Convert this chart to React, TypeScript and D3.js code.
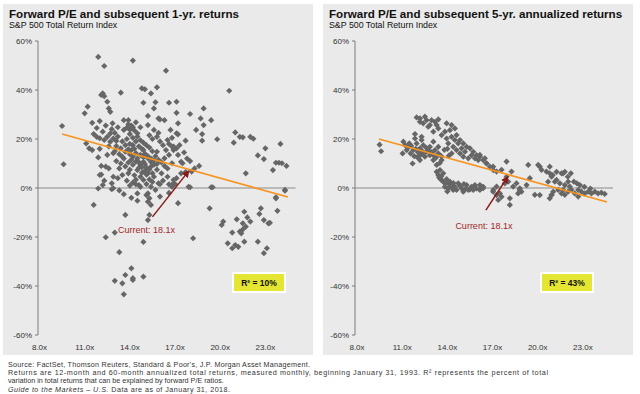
import React from 'react';
import * as d3 from 'd3';

const xTicks = [8, 11, 14, 17, 20, 23];
const yTicks = [60, 40, 20, 0, -20, -40, -60];

const titles = [
  'Forward P/E and subsequent 1-yr. returns',
  'Forward P/E and subsequent 5-yr. annualized returns',
];
const subtitle = 'S&P 500 Total Return Index';
const rSquared = ['R² = 10%', 'R² = 43%'];
const currentLabel = 'Current: 18.1x';

const footnotes = [
  "Source: FactSet, Thomson Reuters, Standard & Poor's, J.P. Morgan Asset Management.",
  'Returns are 12-month and 60-month annualized total returns, measured monthly, beginning January 31, 1993. R² represents the percent of total',
  'variation in total returns that can be explained by forward P/E ratios.',
];
const footnoteWidths: (number | undefined)[] = [302, 540, undefined];

// [forward P/E, subsequent 1-yr return %]
const oneYearPoints: [number, number][] = [
  [11.9, 53.5], [12.3, 49.8], [14.2, 52], [16.4, 47.9], [20.6, 39.7],
  [13.4, 38.9], [12.1, 38], [12.2, 38.6], [12.3, 37.5], [12.5, 35.2], [12.6, 32.5], [12.7, 31.1],
  [11.2, 33.2], [11.0, 30.5], [11.5, 26.6], [12.0, 27.3], [9.5, 25.3], [9.6, 9.7],
  [14.8, 40.7], [15.0, 40.3], [15.4, 38.6], [15.8, 41.1],
  [14.9, 34.8], [15.7, 35.0], [15.6, 32.5], [16.6, 34.8], [17.1, 35.2],
  [15.2, 29.4], [15.9, 28.4], [16.3, 27.7], [17.1, 30.7],
  [12.85, 26.4], [13.2, 24.8], [13.6, 23.7], [13.9, 27.7], [14.2, 24.8], [14.5, 22.3], [14.7, 24.8],
  [15.2, 25.7], [15.6, 23.7], [15.8, 20.9], [16.0, 28.0], [16.5, 19.6], [16.7, 23.7], [16.9, 16.9], [17.1, 22.3],
  [12.0, 20.3], [12.3, 19.6], [12.5, 20.9], [11.1, 18.2], [11.3, 16.2], [11.5, 15.5], [11.8, 20.9],
  [12.7, 18.9], [13.1, 17.1], [13.4, 16.2], [13.7, 14.8], [14.1, 15.5], [14.4, 14.2], [14.7, 13.5],
  [14.9, 15.5], [15.2, 12.1], [15.4, 10.7], [15.8, 14.8], [16.3, 12.1], [16.6, 13.5], [16.8, 10.1],
  [12.5, 13.5], [12.9, 14.2], [12.4, 8.7], [12.6, 8.0], [12.0, 5.3], [12.9, 4.6], [13.2, 4.0], [13.5, 5.3],
  [12.2, 1.2], [12.9, -0.1],
  [14.5, 7.3], [14.7, 4.6], [14.9, 3.3], [14.6, 1.2], [15.2, 6.0], [15.4, 8.7], [15.6, 4.6], [15.9, 1.9],
  [16.1, 6.0], [16.5, 4.6], [16.8, 0.5], [14.7, 9.4], [14.9, 10.7], [15.2, -2.2], [14.5, -2.2],
  [17.2, 26.4], [17.2, 21.9], [18.0, 30.2], [18.9, 32.5], [18.7, 28.4], [19.4, 27.7], [18.4, 23.7],
  [18.9, 25.7], [18.8, 22.0], [18.8, 19.3], [17.7, 19.3], [19.8, 19.9], [21.0, 22.7], [20.9, 18.5],
  [21.3, 20.9], [21.5, 20.7], [22.0, 20.9], [22.2, 20.1], [23.0, 16.2], [24.0, 18.0], [22.5, 13.3],
  [22.9, 11.8], [23.7, 10.3], [23.9, 10.3], [24.1, 10.1], [24.4, 9.0], [23.5, 7.3], [21.7, 6.0],
  [16.8, 16.9], [16.9, 15.5], [17.1, 16.2], [17.2, 13.5], [17.4, 10.7], [17.5, 10.1], [18.3, 8.0],
  [18.6, 9.0], [18.1, 6.7], [17.7, 6.5], [17.4, 6.0], [16.9, 3.3], [17.1, 4.0], [17.0, 1.6], [17.9, 0.5],
  [19.5, 0.3], [24.3, -1.1], [23.7, -3.8],
  [12.8, 1.9], [12.8, -0.5], [14.4, 1.5], [14.7, 0.5], [15.1, 1.6], [15.4, 0.5], [15.7, -0.8], [16.0, 1.6],
  [16.9, 1.9], [15.1, -2.9], [15.3, -4.2], [15.2, -5.6], [18.0, 0.3], [19.4, 0.3], [11.6, -6.9],
  [14.5, -5.2], [15.4, -6.9], [17.2, -6.2], [13.7, -11.0], [15.3, -11.0], [15.2, -13.1], [19.3, -8.3],
  [24.3, -0.8], [23.7, -4.2], [23.8, -9.3], [22.7, -8.3], [22.6, -10.6], [21.6, -9.7], [21.8, -12.0],
  [22.0, -13.7], [21.1, -12.8], [21.5, -14.4], [21.7, -15.8], [20.2, -13.7], [20.1, -15.1], [20.8, -18.2],
  [21.3, -17.8], [21.5, -16.9], [21.4, -18.5], [22.9, -13.1], [23.2, -14.4], [23.3, -14.2], [22.5, -21.9],
  [23.1, -24.6], [22.9, -26.6], [20.5, -22.6], [20.8, -24.6], [21.0, -23.3], [21.2, -24.0], [21.6, -21.9],
  [18.2, -20.5], [12.4, -20.1], [13.0, -18.2], [14.9, -22.0], [13.3, -26.2], [14.1, -32.8], [13.7, -35.5],
  [14.2, -37.5], [13.0, -37.9], [13.5, -38.9], [14.2, -36.8], [14.9, -36.2], [13.6, -43.4],
  [13.6, 27.7], [13.9, 26.0], [14.1, 25.5], [14.3, 23.5], [14.5, 21.0], [14.7, 19.5], [14.9, 18.5],
  [15.1, 17.5], [15.3, 16.5], [15.5, 15.0], [15.7, 13.0], [15.9, 11.5], [16.1, 10.5], [16.3, 9.0],
  [16.5, 8.0], [14.0, 22.0], [14.2, 20.5], [14.4, 19.0], [14.6, 17.0], [14.8, 16.0], [15.0, 14.0],
  [15.2, 13.0], [15.4, 12.0], [13.8, 20.0], [14.0, 18.0], [14.2, 17.5], [14.3, 16.0], [14.5, 12.0],
  [14.6, 10.5], [14.8, 8.5], [15.0, 7.0], [15.1, 5.5], [15.3, 3.5], [15.5, 2.5], [14.1, 11.5],
  [14.2, 9.5], [14.0, 7.5], [13.9, 6.0], [13.8, 3.0], [14.0, 1.0], [13.6, 12.0], [13.4, 10.0],
  [13.3, 8.0], [13.1, 11.0], [16.0, 19.0], [16.2, 17.5], [16.4, 15.5], [15.9, 22.5], [15.5, 20.0],
  [15.3, 21.5], [16.6, 18.0], [16.8, 20.5], [17.3, 17.5], [17.6, 14.5], [17.8, 12.0], [18.0, 11.0],
  [16.2, 3.0], [16.6, 1.5], [15.8, 7.5], [15.6, 9.5], [13.2, 21.0], [13.0, 22.5], [12.8, 24.0],
  [13.5, 19.0], [12.2, 23.0], [12.4, 25.5], [11.8, 24.5], [11.6, 22.0], [12.0, 16.0], [11.9, 12.5],
  [12.1, 9.0], [12.1, 5.5], [11.9, -0.2], [12.3, 3.0], [13.3, -1.0], [13.6, -2.5], [14.1, -4.0],
  [16.6, -2.0], [16.0, -3.5], [12.6, 17.0], [13.0, 15.0],
  [13.7, 17.5], [13.9, 15.8], [14.0, 13.8], [14.2, 12.8], [14.4, 10.8], [14.6, 8.2], [14.8, 6.2],
  [14.9, 12.6], [15.0, 9.8], [15.1, 8.4], [15.3, 7.6], [15.5, 6.0], [15.6, 11.2], [15.8, 9.8],
  [14.3, 5.2], [14.4, 3.4], [14.2, 2.2], [13.7, 8.8], [13.5, 12.8], [13.3, 13.8], [13.9, 10.4],
  [13.8, 24.6], [14.0, 23.8], [14.4, 26.8], [12.9, 20.2], [13.1, 19.2], [12.7, 22.2],
];

// [forward P/E, subsequent 5-yr annualized return %]
const fiveYearPoints: [number, number][] = [
  [9.5, 17.7], [9.6, 15.0],
  [11.96, 28.8], [12.18, 27.0], [12.4, 26.4], [12.62, 27.7], [12.84, 25.7], [13.18, 27.0], [13.4, 28.0],
  [13.4, 24.3], [13.07, 23.0], [13.62, 21.6], [13.95, 20.2], [14.17, 23.6], [14.28, 25.7], [14.5, 24.3],
  [14.61, 21.6], [14.84, 19.6], [15.06, 18.2], [15.28, 16.8], [15.5, 16.2], [15.72, 14.8], [15.94, 13.4],
  [16.16, 12.8], [16.38, 11.4], [16.6, 10.0], [16.83, 8.7], [17.05, 7.3], [14.06, 18.2], [14.39, 16.8],
  [14.61, 15.5], [14.84, 14.1], [14.28, 14.1], [15.06, 12.8], [15.39, 12.1],
  [12.18, 28.4], [12.51, 29.1], [12.95, 27.7], [12.73, 25.0], [13.29, 25.7], [13.95, 26.4], [13.84, 23.0],
  [14.28, 20.9], [14.5, 19.6], [14.72, 18.2], [14.95, 16.2], [15.17, 14.8], [15.61, 13.4], [15.83, 12.1],
  [16.05, 11.4],
  [11.08, 18.9], [11.19, 17.5], [11.47, 18.2], [11.3, 15.5], [11.56, 14.1], [11.69, 10.0], [11.03, 14.1],
  [11.96, 18.2], [12.18, 16.2], [12.4, 17.5], [12.62, 14.8], [12.84, 13.4], [12.51, 12.8], [13.07, 11.4],
  [13.18, 15.5], [13.4, 14.1], [13.62, 11.4], [13.29, 9.4], [13.51, 7.3], [13.73, 6.0], [12.18, 11.4],
  [12.4, 14.1], [11.74, 15.5], [11.85, 20.2], [12.29, 19.6], [12.84, 16.8], [13.07, 18.9], [11.85, 22.0],
  [12.29, 20.9],
  [11.4, 16.6], [11.6, 17.2], [11.9, 16.0], [12.05, 14.6], [12.3, 15.2], [12.6, 16.4], [12.75, 15.4],
  [12.95, 14.6], [13.1, 13.2], [13.25, 12.4], [12.0, 12.6], [12.2, 13.4], [11.8, 13.0], [13.5, 10.2],
  [13.4, 16.8], [13.6, 13.0], [13.8, 15.6], [14.0, 16.0], [14.1, 13.2],
  [13.4, 5.3], [13.62, 3.2], [13.84, 1.9], [14.06, -0.2], [14.28, 1.2], [14.5, 0.5], [14.72, 1.9],
  [14.95, -0.2], [15.28, 1.2], [15.61, 0.5], [15.94, -0.2], [16.16, -0.8], [16.38, 0.5], [13.84, 0.5],
  [14.39, -0.8], [15.06, -1.5], [15.72, -0.8], [13.51, 3.9], [13.73, 2.6], [14.17, 2.6], [14.61, -0.8],
  [15.39, -0.8], [15.83, 1.2], [16.16, 1.2], [13.29, 6.6], [14.06, 1.9],
  [13.95, 3.6], [14.2, 0.4], [14.4, 2.0], [14.85, 0.8], [15.1, 1.6], [15.5, -0.6], [15.2, -0.4],
  [14.0, -1.4], [13.6, 4.8], [13.45, 4.4],
  [16.16, 13.5], [16.49, 12.1], [16.6, 10.1], [17.04, 8.7], [17.27, 6.7], [17.6, 7.4], [17.93, 10.8],
  [18.26, 6.7], [17.93, 4.6], [18.04, 2.6], [17.82, 1.9], [17.27, 0.6], [17.04, -1.5], [17.49, -2.2],
  [17.38, -4.9], [18.15, -4.2], [18.15, -6.9], [18.37, 0.6], [18.59, 1.9], [18.81, -0.1], [18.92, -1.5],
  [18.7, -2.2], [19.37, 9.4], [19.48, 4.0], [19.81, -2.8], [20.14, 8.7], [20.25, 7.4], [20.58, 6.7],
  [20.8, 6.0], [20.92, 4.6], [20.69, 2.6], [21.14, 2.6], [21.25, 3.3], [21.47, 1.9], [21.69, 6.0],
  [21.8, 1.2], [22.02, 2.6], [22.13, 0.6], [21.03, -1.5], [20.92, -2.8], [21.36, -0.8], [21.58, -2.2],
  [21.8, -2.8], [22.24, -0.8], [22.46, -2.2], [22.69, -0.8], [22.91, -1.5], [23.13, -2.2], [23.35, -1.5],
  [23.57, -2.2], [23.79, -1.5], [24.01, -2.2], [24.23, -1.9], [24.45, -2.4], [22.69, -3.5], [21.69, -0.8],
  [22.02, -1.5], [16.27, 0.6], [16.38, -0.1],
  [17.05, -0.8], [17.27, -2.9], [17.6, -3.6], [18.8, -0.8], [19.26, 1.2], [20.03, 9.4], [20.8, 8.7],
  [21.0, 5.3], [21.25, 6.6], [21.58, 6.0], [20.8, -4.2], [20.92, -2.9], [20.14, -2.9], [21.8, 6.6],
  [22.2, 6.0], [22.0, 4.6], [22.4, 2.6], [22.6, 1.9], [22.8, 1.2], [23.1, 0.5], [23.5, -0.2],
];

const oneYearTrend: [number, number][] = [[9.5, 22.0], [24.5, -3.7]];
const fiveYearTrend: [number, number][] = [[9.46, 20.0], [24.6, -5.7]];
const oneYearArrow: [number, number][] = [[15.5, -11.8], [17.9, 6.9]];
const fiveYearArrow: [number, number][] = [[16.56, -9.0], [18.0, 4.5]];

const FONT = "'Liberation Sans', Arial, sans-serif";

type PanelProps = {
  id: string;
  left: number;
  axisX: number;
  rangeStart: number;
  title: string;
  points: [number, number][];
  trend: [number, number][];
  arrow: [number, number][];
  r2: string;
  labelDx: number;
  labelDy: number;
  boxX: number;
};

function Panel(p: PanelProps) {
  const x = d3.scaleLinear().domain([8, 25]).range([p.rangeStart, p.rangeStart + 256]);
  const y = d3.scaleLinear().domain([-60, 60]).range([335, 41]);
  const line = d3.line<[number, number]>().x((d) => x(d[0])).y((d) => y(d[1]));
  const r = 3.1;
  const a0 = p.arrow[0];
  return (
    <g>
      <rect x={p.left} y={4} width={310} height={351} fill="#e9eae9" />
      <text x={p.left + 6} y={17.5} fontFamily={FONT} fontWeight="bold" fontSize={11.6} fill="#111">
        {p.title}
      </text>
      <text x={p.left + 6} y={28} fontFamily={FONT} fontSize={8.8} fill="#111">
        {subtitle}
      </text>
      <line x1={p.axisX} x2={p.axisX} y1={y(60)} y2={y(-60)} stroke="#7a7a7a" strokeWidth={1} />
      {yTicks.map((t) => (
        <g key={t}>
          <line x1={p.axisX - 3} x2={p.axisX} y1={y(t)} y2={y(t)} stroke="#7a7a7a" />
          <text x={p.axisX - 6} y={y(t) + 3} textAnchor="end" fontFamily={FONT} fontSize={8} fill="#333">
            {`${t}%`}
          </text>
        </g>
      ))}
      {xTicks.map((t) => (
        <text key={t} x={x(t)} y={350} textAnchor="middle" fontFamily={FONT} fontSize={8} fill="#333">
          {`${t.toFixed(1)}x`}
        </text>
      ))}
      <line x1={p.axisX} x2={x(25)} y1={y(0)} y2={y(0)} stroke="#8a8a8a" strokeWidth={1} />
      {p.points.map((d, i) => (
        <path
          key={i}
          transform={`translate(${x(d[0])},${y(d[1])})`}
          d={`M0,${-r}L${r},0L0,${r}L${-r},0Z`}
          fill="#666666"
        />
      ))}
      <path d={line(p.trend) || ''} stroke="#f7931e" strokeWidth={1.6} fill="none" />
      <defs>
        <marker id={`arr-${p.id}`} viewBox="0 0 10 10" refX="8" refY="5" markerWidth="5" markerHeight="5" orient="auto">
          <path d="M0,0L10,5L0,10Z" fill="#8b1a1a" />
        </marker>
      </defs>
      <path d={line(p.arrow) || ''} stroke="#8b1a1a" strokeWidth={1.5} fill="none" markerEnd={`url(#arr-${p.id})`} />
      <text
        x={x(a0[0]) + p.labelDx}
        y={y(a0[1]) + p.labelDy}
        textAnchor="middle"
        fontFamily={FONT}
        fontSize={9}
        fill="#a3262a"
      >
        {currentLabel}
      </text>
      <rect x={p.boxX} y={273} width={52} height={19} fill="#e5e533" stroke="#ffffff" strokeWidth={2} />
      <text x={p.boxX + 26} y={285.5} textAnchor="middle" fontFamily={FONT} fontWeight="bold" fontSize={8.5} fill="#111">
        {p.r2}
      </text>
    </g>
  );
}

export default function App() {
  return (
    <svg
      width={640}
      height={394}
      viewBox="0 0 640 394"
      style={{ position: 'absolute', left: 0, top: 0, background: '#ffffff' }}
    >
      <rect width={640} height={394} fill="#ffffff" />
      <Panel
        id="l"
        left={3}
        axisX={38}
        rangeStart={39.5}
        title={titles[0]}
        points={oneYearPoints}
        trend={oneYearTrend}
        arrow={oneYearArrow}
        r2={rSquared[0]}
        labelDx={-6}
        labelDy={16}
        boxX={233}
      />
      <Panel
        id="r"
        left={323}
        axisX={355}
        rangeStart={357}
        title={titles[1]}
        points={fiveYearPoints}
        trend={fiveYearTrend}
        arrow={fiveYearArrow}
        r2={rSquared[1]}
        labelDx={-2}
        labelDy={19}
        boxX={541}
      />
      {footnotes.map((f, i) => (
        <text
          key={i}
          x={8}
          y={367 + i * 8.2}
          fontFamily={FONT}
          fontSize={7.2}
          fill="#333"
          textLength={footnoteWidths[i]}
          lengthAdjust={footnoteWidths[i] ? 'spacing' : undefined}
        >
          {f}
        </text>
      ))}
      <text x={8} y={367 + 3 * 8.2} fontFamily={FONT} fontSize={7.2} fill="#333" textLength={222} lengthAdjust="spacing">
        <tspan fontStyle="italic">Guide to the Markets – U.S.</tspan>
        <tspan> Data are as of January 31, 2018.</tspan>
      </text>
    </svg>
  );
}
